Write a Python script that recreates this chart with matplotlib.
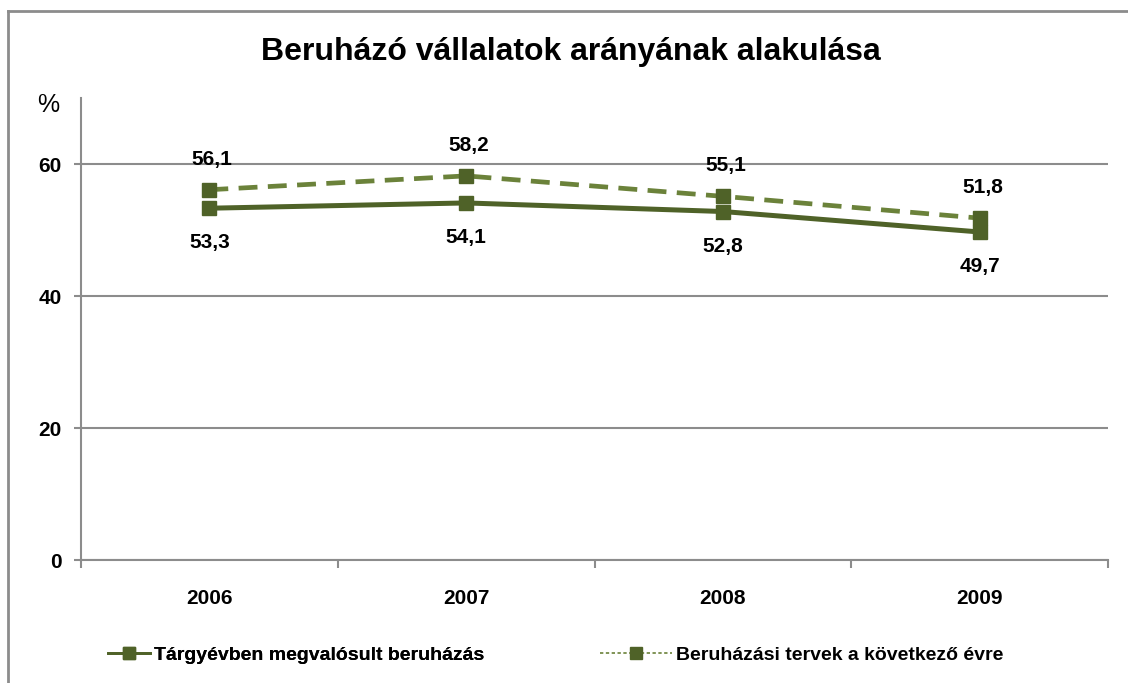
import matplotlib
matplotlib.use("Agg")
import matplotlib.pyplot as plt
from matplotlib.lines import Line2D

plt.rcParams['font.family'] = ['Liberation Sans', 'DejaVu Sans']

years = ['2006', '2007', '2008', '2009']
megvalosult = [53.3, 54.1, 52.8, 49.7]
tervek = [56.1, 58.2, 55.1, 51.8]
yticks = [0, 20, 40, 60]

title = 'Beruházó vállalatok arányának alakulása'
label_solid = 'Tárgyévben megvalósult beruházás'
label_dash = 'Beruházási tervek a következő évre'

green = '#4F6228'
dash_green = '#6B823A'
grey = '#8C8C8C'

W, H = 1128, 683
fig = plt.figure(figsize=(W / 100, H / 100), dpi=100)
ax = fig.add_axes([81 / W, 1 - 560 / H, 1027 / W, 462 / H])

x = list(range(len(years)))

ax.plot(x, tervek, color=dash_green, lw=3.4, dashes=(4, 2.2),
        marker='s', markersize=10, markerfacecolor=green, markeredgecolor=green,
        zorder=3)
ax.plot(x, megvalosult, color=green, lw=3.6,
        marker='s', markersize=10, markerfacecolor=green, markeredgecolor=green,
        zorder=4)

# value labels: plans above, realised below
for xi, v in zip(x, tervek):
    ax.annotate(f'{v:.1f}'.replace('.', ','), (xi, v), xytext=(2, 22),
                textcoords='offset points', ha='center', va='center',
                fontsize=15, fontweight='bold')
for xi, v in zip(x, megvalosult):
    ax.annotate(f'{v:.1f}'.replace('.', ','), (xi, v), xytext=(0, -25),
                textcoords='offset points', ha='center', va='center',
                fontsize=15, fontweight='bold')

ax.set_xlim(-0.5, 3.5)
ax.set_ylim(0, 70)
ax.set_yticks(yticks)
ax.set_yticklabels([str(t) for t in yticks], fontsize=15, fontweight='bold')
ax.set_xticks(x)
ax.set_xticklabels(years, fontsize=15, fontweight='bold')
ax.set_xticks([-0.5, 0.5, 1.5, 2.5, 3.5], minor=True)
ax.tick_params(axis='x', which='major', length=0, pad=21)
ax.tick_params(axis='x', which='minor', length=6, width=1.5, color=grey)
ax.tick_params(axis='y', length=5, width=1.5, color=grey, pad=9)

ax.grid(axis='y', color=grey, lw=1.5)
ax.set_axisbelow(True)
for side in ['top', 'right']:
    ax.spines[side].set_visible(False)
for side in ['left', 'bottom']:
    ax.spines[side].set_color(grey)
    ax.spines[side].set_linewidth(1.5)

fig.text(48 / W, 1 - 105 / H, '%', fontsize=18, ha='center', va='center')
fig.text(571 / W, 1 - 52 / H, title, fontsize=23, fontweight='bold',
         ha='center', va='center')

# chart frame (top and left edges)
fig.add_artist(Line2D([8 / W, 1], [1 - 11 / H, 1 - 11 / H], color=grey, lw=2))
fig.add_artist(Line2D([8 / W, 8 / W], [0, 1 - 11 / H], color=grey, lw=2))

# two legend entries placed separately (different handle lengths)
solid_handle = Line2D([], [], color=green, lw=2, marker='s', markersize=9,
                      markerfacecolor=green, markeredgecolor=green)
dash_handle = Line2D([], [], color=dash_green, lw=1.2, dashes=(2, 1.5), marker='s',
                     markersize=9, markerfacecolor=green, markeredgecolor=green)
leg_font = {'family': ['Liberation Sans Narrow', 'Liberation Sans'],
            'weight': 'bold', 'size': 14}
leg1 = fig.legend([solid_handle], [label_solid], loc='center left',
                  bbox_to_anchor=(108 / W, 1 - 655 / H), frameon=False,
                  handlelength=2.15, handletextpad=0.2, borderpad=0,
                  borderaxespad=0, prop=leg_font)
fig.legend([dash_handle], [label_dash], loc='center left',
           bbox_to_anchor=(600 / W, 1 - 655 / H), frameon=False,
           handlelength=3.7, handletextpad=0.2, borderpad=0,
           borderaxespad=0, prop=leg_font)
fig.add_artist(leg1)

fig.savefig('out.png', dpi=100)
